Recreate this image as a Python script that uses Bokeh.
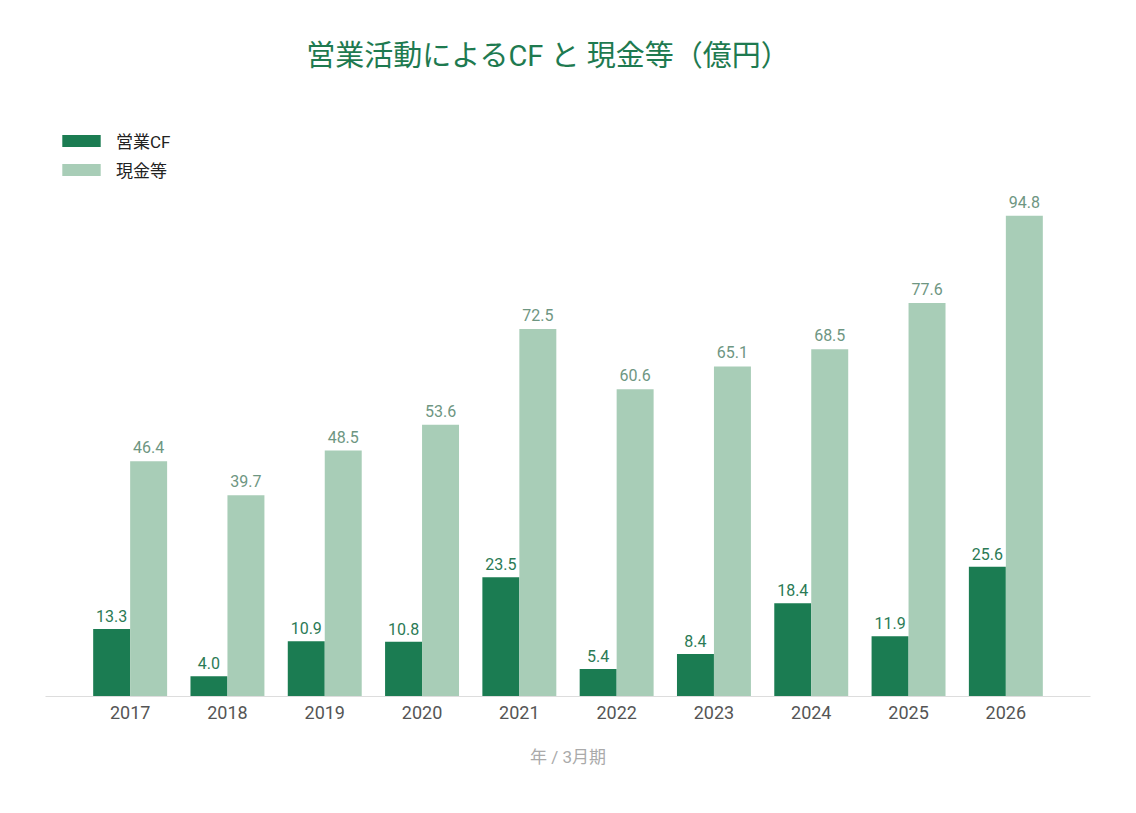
from bokeh.plotting import figure
from bokeh.models import ColumnDataSource, FactorRange, Range1d, Legend, LegendItem, Label
from bokeh.transform import dodge
from bokeh.core.properties import value
from bokeh.embed import file_html
from bokeh.resources import INLINE

years = ["2017", "2018", "2019", "2020", "2021", "2022", "2023", "2024", "2025", "2026"]
op_cf = [13.3, 4.0, 10.9, 10.8, 23.5, 5.4, 8.4, 18.4, 11.9, 25.6]
cash = [46.4, 39.7, 48.5, 53.6, 72.5, 60.6, 65.1, 68.5, 77.6, 94.8]
title_text = "営業活動によるCF と 現金等（億円）"

FONT = "Roboto, 'Noto Sans CJK JP', sans-serif"
DARK = "#1b7c52"
LIGHT = "#a8cdb7"

src = ColumnDataSource(dict(
    year=years, cf=op_cf, cash=cash,
    cf_lbl=[f"{v:.1f}" for v in op_cf],
    cash_lbl=[f"{v:.1f}" for v in cash],
))

p = figure(width=1136, height=813, output_backend="svg", toolbar_location=None,
           x_range=FactorRange(*years, range_padding=0.074, range_padding_units="percent"),
           y_range=Range1d(0, 135.3),
           min_border_left=45, min_border_right=46, min_border_bottom=117, min_border_top=10)

p.add_layout(Label(x=503, y=641, x_units="screen", y_units="screen", text=title_text,
                   text_align="center", text_baseline="middle",
                   text_font=FONT, text_font_size="29px", text_color="#1e7a50"))

r1 = p.vbar(x=dodge("year", -0.19, range=p.x_range), top="cf", width=0.38, source=src,
            fill_color=DARK, line_color=None)
r2 = p.vbar(x=dodge("year", 0.19, range=p.x_range), top="cash", width=0.38, source=src,
            fill_color=LIGHT, line_color=None)

p.text(x=dodge("year", -0.19, range=p.x_range), y="cf", text="cf_lbl", source=src,
       text_align="center", text_baseline="bottom", y_offset=-7,
       text_font=value(FONT), text_font_size="16px", text_color="#2b7a55")
p.text(x=dodge("year", 0.19, range=p.x_range), y="cash", text="cash_lbl", source=src,
       text_align="center", text_baseline="bottom", y_offset=-8,
       text_font=value(FONT), text_font_size="16px", text_color="#6e9682")

legend = Legend(items=[LegendItem(label="営業CF", renderers=[r1]),
                       LegendItem(label="現金等", renderers=[r2])],
                location=(12, 514), glyph_width=48, glyph_height=15, spacing=4,
                label_standoff=11, padding=0, margin=0, border_line_color=None,
                background_fill_alpha=0, label_text_font=FONT,
                label_text_font_size="17px", label_text_color="#222222",
                label_height=15)
p.add_layout(legend)

p.yaxis.visible = False
p.xgrid.grid_line_color = None
p.ygrid.grid_line_color = None
p.outline_line_color = None
p.xaxis.axis_line_color = "#dddddd"
p.xaxis.major_tick_line_color = None
p.xaxis.minor_tick_line_color = None
p.xaxis.major_label_text_font = FONT
p.xaxis.major_label_text_font_size = "18px"
p.xaxis.major_label_text_color = "#555555"
p.xaxis.major_label_standoff = 3
p.xaxis.axis_label = "年 / 3月期"
p.xaxis.axis_label_text_font = FONT
p.xaxis.axis_label_text_font_size = "17px"
p.xaxis.axis_label_text_font_style = "normal"
p.xaxis.axis_label_text_color = "#aaaaaa"
p.xaxis.axis_label_standoff = 25

open("out.html", "w").write(file_html(p, INLINE))
